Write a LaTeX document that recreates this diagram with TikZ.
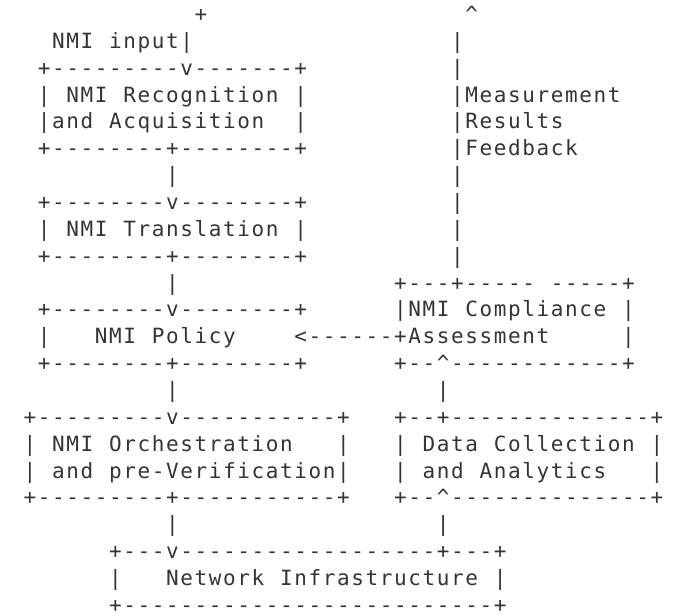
\documentclass[tikz,border=0pt]{standalone}
\usepackage{fontspec}
\newfontfamily\asciifont{DejaVu Sans Mono}
\definecolor{inkgray}{RGB}{52,52,52}
\newlength\cellwd
\setlength\cellwd{14.25pt}
\ExplSyntaxOn
\NewDocumentCommand \asciiline { v }
  {
    \str_map_inline:nn { #1 }
      { \hbox_to_wd:nn { \cellwd } { \hss ##1 \hss } }
  }
\ExplSyntaxOff
\tikzset{
  textrow/.style={anchor=base west, inner sep=0pt, outer sep=0pt,
    text=inkgray, font=\asciifont\fontsize{21pt}{22pt}\selectfont}
}

\begin{document}
\begin{tikzpicture}[x=14.25pt, y=-26.86pt]
\useasboundingbox (-2.105,-0.797) rectangle (45.54,22.1);
\node[textrow] (row1) at (-0.5,0) {\asciiline{            +                  ^}};
\node[textrow] (row2) at (-0.5,1) {\asciiline{  NMI input|                  |}};
\node[textrow] (row3) at (-0.5,2) {\asciiline{ +---------v-------+          |}};
\node[textrow] (row4) at (-0.5,3) {\asciiline{ | NMI Recognition |          |Measurement}};
\node[textrow] (row5) at (-0.5,4) {\asciiline{ |and Acquisition  |          |Results}};
\node[textrow] (row6) at (-0.5,5) {\asciiline{ +--------+--------+          |Feedback}};
\node[textrow] (row7) at (-0.5,6) {\asciiline{          |                   |}};
\node[textrow] (row8) at (-0.5,7) {\asciiline{ +--------v--------+          |}};
\node[textrow] (row9) at (-0.5,8) {\asciiline{ | NMI Translation |          |}};
\node[textrow] (row10) at (-0.5,9) {\asciiline{ +--------+--------+          |}};
\node[textrow] (row11) at (-0.5,10) {\asciiline{          |               +---+----- -----+}};
\node[textrow] (row12) at (-0.5,11) {\asciiline{ +--------v--------+      |NMI Compliance |}};
\node[textrow] (row13) at (-0.5,12) {\asciiline{ |   NMI Policy    <------+Assessment     |}};
\node[textrow] (row14) at (-0.5,13) {\asciiline{ +--------+--------+      +--^------------+}};
\node[textrow] (row15) at (-0.5,14) {\asciiline{          |                  |}};
\node[textrow] (row16) at (-0.5,15) {\asciiline{+---------v-----------+   +--+--------------+}};
\node[textrow] (row17) at (-0.5,16) {\asciiline{| NMI Orchestration   |   | Data Collection |}};
\node[textrow] (row18) at (-0.5,17) {\asciiline{| and pre-Verification|   | and Analytics   |}};
\node[textrow] (row19) at (-0.5,18) {\asciiline{+---------+-----------+   +--^--------------+}};
\node[textrow] (row20) at (-0.5,19) {\asciiline{          |                  |}};
\node[textrow] (row21) at (-0.5,20) {\asciiline{      +---v------------------+---+}};
\node[textrow] (row22) at (-0.5,21) {\asciiline{      |   Network Infrastructure |}};
\node[textrow] (row23) at (-0.5,22) {\asciiline{      +--------------------------+}};
\end{tikzpicture}
\end{document}
